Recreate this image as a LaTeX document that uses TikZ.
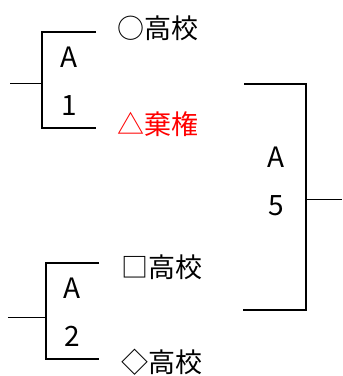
\documentclass[tikz,border=0pt]{standalone}
\usepackage{fontspec}
\setmainfont{Noto Sans CJK JP}
\usetikzlibrary{positioning}

\begin{document}
\begin{tikzpicture}[x=1pt, y=-1pt,
        school/.style={anchor=west, inner sep=0pt, font=\fontsize{27}{30}\selectfont},
        seed/.style={align=center, inner sep=0pt, font=\fontsize{28}{48}\selectfont},
        bracket/.style={line width=2pt},
        stub/.style={line width=1pt}]
        \useasboundingbox (0,0) rectangle (343,376);

        % Bracket A1
        \coordinate (a1top) at (42,32);
        \coordinate (a1bot) at (42,128);
        \coordinate (a1topend) at (96,32);
        \coordinate (a1botend) at (96,128);
        \coordinate (a1mid) at (42,83);
        \coordinate (a1in) at (10,83);
        \node[seed] (a1) at (69,81) {A\\1};

        % Bracket A2
        \coordinate (a2top) at (46,263);
        \coordinate (a2bot) at (46,359);
        \coordinate (a2topend) at (99,263);
        \coordinate (a2botend) at (99,359);
        \coordinate (a2mid) at (46,317);
        \coordinate (a2in) at (8,317);
        \node[seed] (a2) at (72,312) {A\\2};

        % Bracket A5
        \coordinate (a5top) at (306,84);
        \coordinate (a5bot) at (306,310);
        \coordinate (a5topend) at (244,84);
        \coordinate (a5botend) at (243,310);
        \coordinate (a5mid) at (306,199);
        \coordinate (a5out) at (342,199);
        \node[seed] (a5) at (276,181) {A\\5};

        % School nodes
        \node[school] (maru) at (117,28) {○高校};
        \node[school, text=red] (sankaku) at (117,124) {△棄権};
        \node[school] (shikaku) at (121,267) {□高校};
        \node[school] (hishi) at (121,362) {◇高校};

        % Lines
        \draw[bracket] (a1topend) -- (a1top) -- (a1bot) -- (a1botend);
        \draw[stub] (a1in) -- (a1mid);
        \draw[bracket] (a2topend) -- (a2top) -- (a2bot) -- (a2botend);
        \draw[stub] (a2in) -- (a2mid);
        \draw[bracket] (a5topend) -- (a5top) -- (a5bot) -- (a5botend);
        \draw[stub] (a5mid) -- (a5out);
    \end{tikzpicture}
\end{document}
